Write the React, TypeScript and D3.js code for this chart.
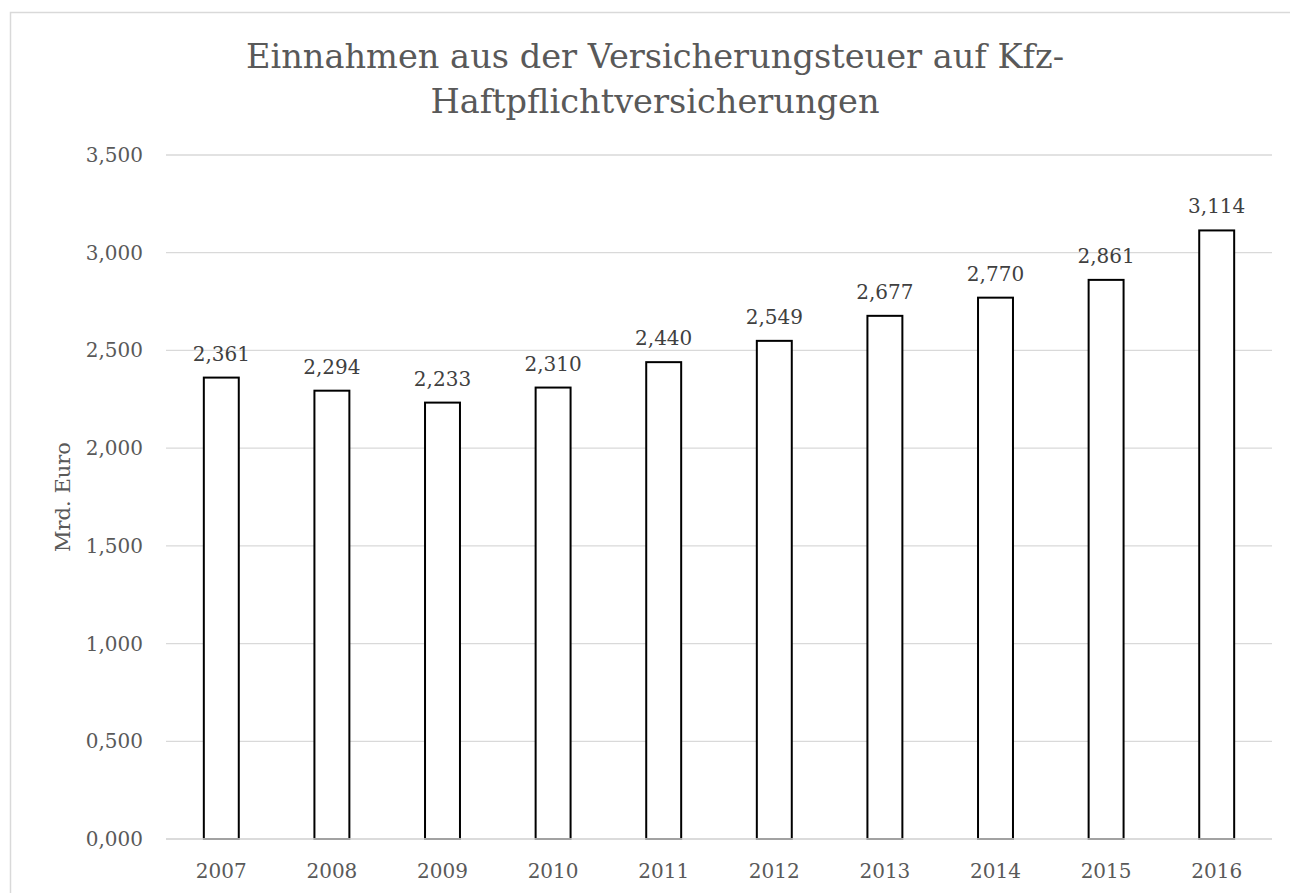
import React from "react";
import * as d3 from "d3";

const years = ["2007", "2008", "2009", "2010", "2011", "2012", "2013", "2014", "2015", "2016"];
const revenue = [2.361, 2.294, 2.233, 2.31, 2.44, 2.549, 2.677, 2.77, 2.861, 3.114];
const yTicks = [0, 0.5, 1, 1.5, 2, 2.5, 3, 3.5];
const titleLines = ["Einnahmen aus der Versicherungsteuer auf Kfz-", "Haftpflichtversicherungen"];

const W = 1290;
const H = 893;
const margin = { left: 166, right: 1272, top: 155, bottom: 839 };
const font = "'DejaVu Serif', serif";
const grey = "#595959";

// 2,361 style numbers
const fmt = (v: number) => d3.format(".3f")(v).replace(".", ",");

const App = () => {
  const x = d3
    .scaleBand<string>()
    .domain(years)
    .range([margin.left, margin.right])
    .paddingInner(0.684)
    .paddingOuter(0.342);
  const y = d3.scaleLinear().domain([0, 3.5]).range([margin.bottom, margin.top]);

  return (
    <svg
      width={W}
      height={H}
      style={{ position: "absolute", left: 0, top: 0, background: "#fff", overflow: "hidden" }}
      fontFamily={font}
    >
      <rect x={10.5} y={12.5} width={1300} height={900} fill="#fff" stroke="#d9d9d9" strokeWidth={1.5} />

      {titleLines.map((t, i) => (
        <text key={t} x={655} y={68 + i * 45} textAnchor="middle" fontSize={33.6} fill={grey}>
          {t}
        </text>
      ))}

      {yTicks.map((t) => (
        <g key={t}>
          <line x1={margin.left} x2={margin.right} y1={y(t)} y2={y(t)} stroke="#d9d9d9" strokeWidth={1.3} />
          <text x={143} y={y(t)} dy="0.35em" textAnchor="end" fontSize={20} fill={grey}>
            {fmt(t)}
          </text>
        </g>
      ))}

      {revenue.map((v, i) => (
        <g key={years[i]}>
          <rect
            x={x(years[i])}
            y={y(v)}
            width={x.bandwidth()}
            height={y(0) - y(v)}
            fill="#fff"
            stroke="#000"
            strokeWidth={2}
          />
          <text
            x={x(years[i])! + x.bandwidth() / 2}
            y={y(v) - 17}
            textAnchor="middle"
            fontSize={20}
            fill="#404040"
          >
            {fmt(v)}
          </text>
        </g>
      ))}

      <line x1={margin.left} x2={margin.right} y1={y(0)} y2={y(0)} stroke="#d9d9d9" strokeWidth={1.3} />

      {years.map((yr) => (
        <text key={yr} x={x(yr)! + x.bandwidth() / 2} y={878} textAnchor="middle" fontSize={20} fill={grey}>
          {yr}
        </text>
      ))}

      <text
        transform={`translate(70, ${(margin.top + margin.bottom) / 2}) rotate(-90)`}
        textAnchor="middle"
        fontSize={21}
        fill={grey}
      >
        Mrd. Euro
      </text>
    </svg>
  );
};

export default App;
